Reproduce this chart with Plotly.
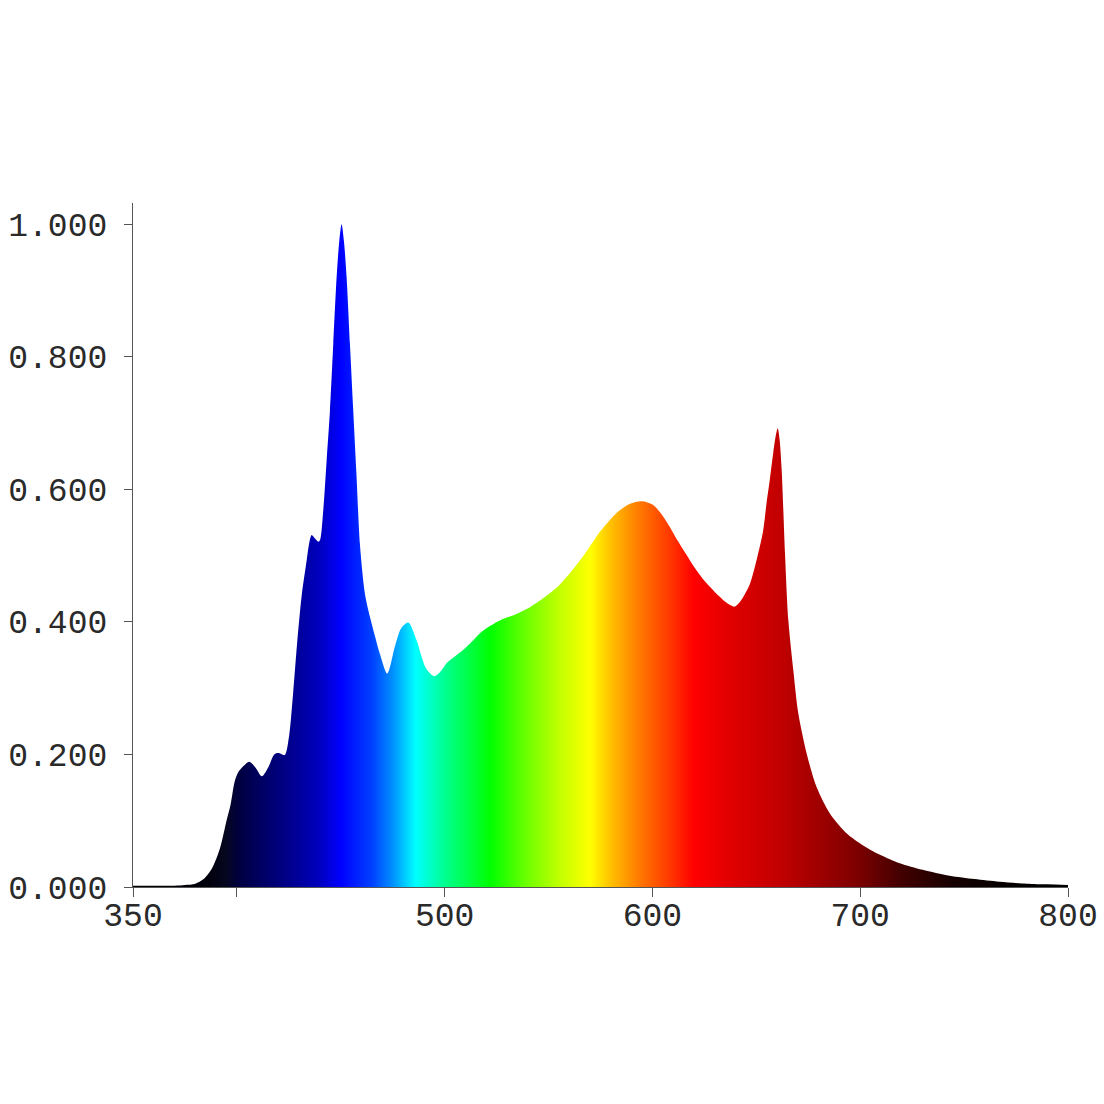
import plotly.graph_objects as go

# Wavelength (nm) and relative intensity
wavelength = [350, 360, 370, 375, 380, 384, 388, 392, 395, 397, 399, 401, 404, 406, 409, 412, 415, 418, 420, 423,
              425, 427, 429, 431.2, 433.6, 435, 436, 437.5, 439.2, 440, 441.6, 443.2, 444.8, 446.4, 448, 449.3,
              450.4, 451.5, 452.8, 454.4, 456, 457.6, 459.2, 461.6, 464, 466.5, 468.8, 472.4, 476, 479, 482.5,
              486.5, 491, 495, 498, 501, 505, 509, 513, 517, 522, 527, 534, 541, 548, 555, 562, 568, 575, 583,
              589, 595, 600, 604, 608, 612, 616, 620, 624, 628, 632, 636, 639.5, 642.1, 644.5, 647, 650.1, 653.3,
              654.9, 656.5, 658.1, 659.3, 660.3, 661.2, 662.2, 663.8, 665.4, 667.8, 670.2, 674.2, 679, 685.4, 693.4,
              699.8, 705, 710, 719, 730, 743, 755, 767, 780, 790, 800]
intensity = [0.002, 0.002, 0.002, 0.003, 0.005, 0.012, 0.028, 0.060, 0.100, 0.125, 0.160, 0.175, 0.185, 0.189, 0.180,
             0.167, 0.180, 0.200, 0.202, 0.199, 0.225, 0.290, 0.368, 0.440, 0.493, 0.522, 0.531, 0.526, 0.521, 0.523,
             0.569, 0.644, 0.719, 0.820, 0.920, 0.975, 1.000, 0.975, 0.920, 0.820, 0.719, 0.619, 0.518, 0.443, 0.408,
             0.378, 0.352, 0.322, 0.362, 0.390, 0.399, 0.372, 0.330, 0.318, 0.325, 0.338, 0.348, 0.358, 0.370, 0.383,
             0.394, 0.403, 0.411, 0.422, 0.437, 0.455, 0.480, 0.505, 0.537, 0.565, 0.578, 0.582, 0.577, 0.564, 0.545,
             0.523, 0.503, 0.483, 0.466, 0.452, 0.439, 0.428, 0.423, 0.430, 0.442, 0.458, 0.493, 0.538, 0.579, 0.615,
             0.654, 0.680, 0.692, 0.675, 0.629, 0.503, 0.403, 0.327, 0.262, 0.2015, 0.151, 0.111, 0.081, 0.066, 0.056,
             0.048, 0.036, 0.026, 0.017, 0.012, 0.008, 0.005, 0.004, 0.003]

# Spectrum colours (wavelength nm -> colour)
spec_nm = [350, 385, 395, 401, 425, 440, 450, 465, 475, 486, 500, 510, 522, 540, 555, 570, 580, 594, 610, 620,
           640, 660, 680, 700, 720, 745, 770, 800]
spec_col = ["#000000", "#00000a", "#060620", "#000040", "#00008c", "#0000c0", "#0000ff", "#0040ff", "#0090ff",
            "#00ffff", "#00ff90", "#00ff50", "#00ff00", "#70ff00", "#c0ff00", "#ffff00", "#ffc000", "#ff7800",
            "#ff3000", "#ff0000", "#dd0000", "#c40000", "#a00000", "#7a0000", "#420000", "#150000", "#050000",
            "#000000"]

x_tickvals = [350, 400, 500, 600, 700, 800]
x_ticktext = ["350", "", "500", "600", "700", "800"]
y_tickvals = [0, 0.2, 0.4, 0.6, 0.8, 1.0]
y_ticktext = ["0.000", "0.200", "0.400", "0.600", "0.800", "1.000"]

lo, hi = spec_nm[0], spec_nm[-1]
colorscale = [[(n - lo) / (hi - lo), c] for n, c in zip(spec_nm, spec_col)]

fig = go.Figure()
fig.add_trace(go.Scatter(
    x=wavelength, y=intensity, mode="lines",
    line=dict(width=0, shape="spline", smoothing=0.8),
    fill="tozeroy",
    fillgradient=dict(type="horizontal", colorscale=colorscale, start=lo, stop=hi),
    hoverinfo="x+y", showlegend=False,
))

font = dict(family="Liberation Mono, Courier New, monospace", size=33, color="#2a2a2a")
fig.update_layout(
    width=1104, height=1104,
    margin=dict(l=133, r=36, t=203, b=217),
    paper_bgcolor="white", plot_bgcolor="white",
    font=font,
    xaxis=dict(range=[350, 800], tickvals=x_tickvals, ticktext=x_ticktext,
               showline=True, linecolor="#555555", linewidth=1.2,
               ticks="outside", ticklen=9, tickcolor="#555555", tickwidth=1.2,
               showgrid=False, zeroline=False, tickfont=font, ticklabelstandoff=-11,
               automargin=False, ticklabeloverflow="allow"),
    yaxis=dict(range=[0, 1.032], tickvals=y_tickvals, ticktext=y_ticktext,
               showline=True, linecolor="#555555", linewidth=1.2,
               ticks="outside", ticklen=8, tickcolor="#555555", tickwidth=1.2,
               showgrid=False, zeroline=False, tickfont=font, ticklabelstandoff=10,
               automargin=False, ticklabeloverflow="allow"),
)

fig.write_html("out.html", config={"displayModeBar": False},
               post_script="document.body.style.margin='0';")
